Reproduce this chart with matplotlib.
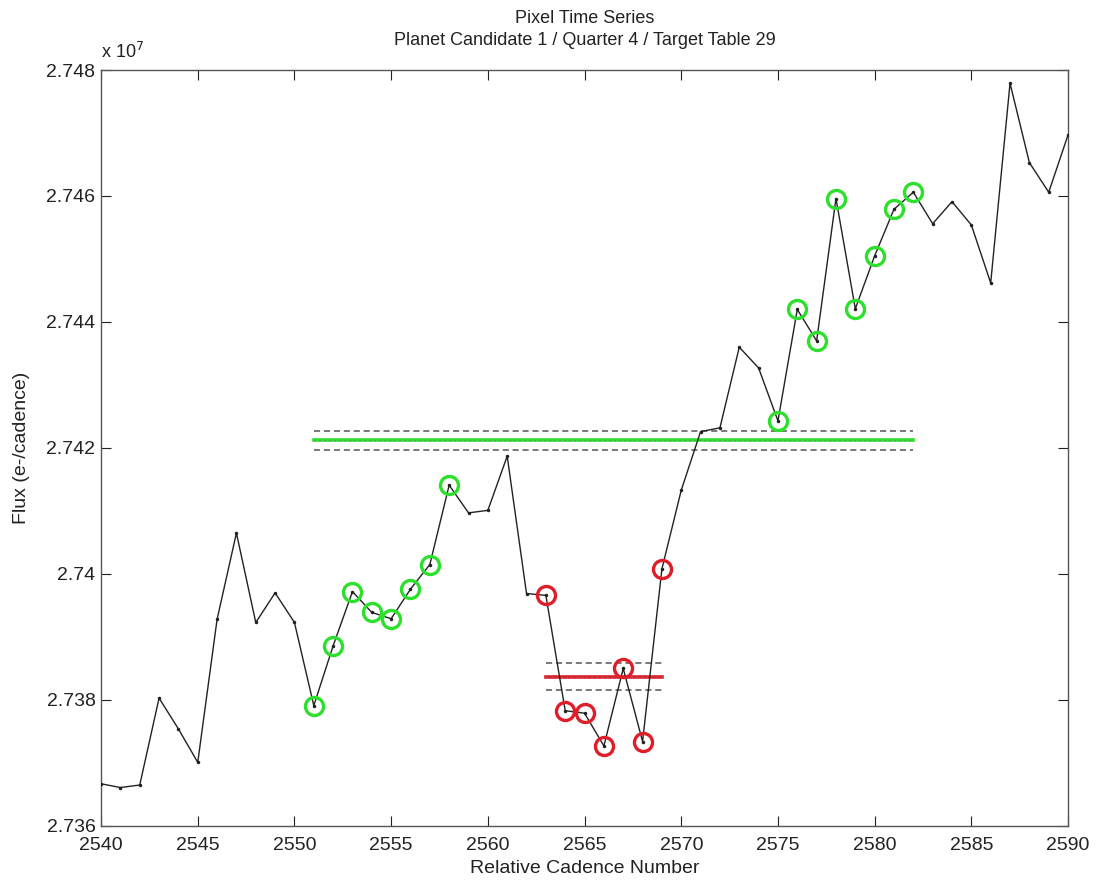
import matplotlib
matplotlib.use("Agg")
import numpy as np
import matplotlib.pyplot as plt
from matplotlib.ticker import FuncFormatter

plt.rcParams["font.family"] = ["Liberation Sans", "DejaVu Sans"]

# cadence numbers and flux (units of 1e7 e-/cadence)
cadence = np.arange(2540, 2591)
flux = np.array([
    2.73667, 2.73661, 2.73665, 2.73803, 2.73754, 2.73701, 2.73928, 2.74065,
    2.73923, 2.73970, 2.73923, 2.73791, 2.73886, 2.73972, 2.73939, 2.73929,
    2.73976, 2.74015, 2.74141, 2.74097, 2.74101, 2.74187, 2.73969, 2.73966,
    2.73783, 2.73779, 2.73727, 2.73850, 2.73734, 2.74008, 2.74133, 2.74226,
    2.74232, 2.74360, 2.74327, 2.74243, 2.74420, 2.74370, 2.74596, 2.74421,
    2.74505, 2.74579, 2.74606, 2.74556, 2.74591, 2.74554, 2.74462, 2.74779,
    2.74653, 2.74606, 2.74697,
]) * 1e7

# out-of-transit and in-transit cadences
oot_cadences = list(range(2551, 2559)) + list(range(2575, 2583))
it_cadences = list(range(2563, 2570))

# mean levels with +/- 1 sigma bands
oot_mean, oot_sigma = 2.74212e7, 0.00015e7
oot_span = (2551, 2582)
it_mean, it_sigma = 2.73837e7, 0.00021e7
it_span = (2563, 2569)

fig = plt.figure(figsize=(10.96, 8.85), dpi=100)
ax = fig.add_axes([0.0922, 0.0667, 0.8823, 0.8542])

idx_oot = [c - 2540 for c in oot_cadences]
idx_it = [c - 2540 for c in it_cadences]

green = "#2ee02e"
red = "#e01e2a"

# mean lines and sigma bands
for lo, hi, mean, sig, col in [(*oot_span, oot_mean, oot_sigma, green),
                               (*it_span, it_mean, it_sigma, red)]:
    ax.plot([lo, hi], [mean + sig] * 2, color="#555555", ls=(0, (4, 2.5)), lw=1.1)
    ax.plot([lo, hi], [mean - sig] * 2, color="#555555", ls=(0, (4, 2.5)), lw=1.1)
    ax.plot([lo, hi], [mean] * 2, color=col, ls="-", lw=2.6)
    ax.plot([lo, hi], [mean] * 2, color="#777777", ls=(0, (1, 3)), lw=0.9)

ax.plot(cadence, flux, color="#222222", lw=1.0, marker=".", ms=3, zorder=3)
ax.plot(cadence[idx_oot], flux[idx_oot], ls="none", marker="o", ms=13,
        mfc="none", mec=green, mew=2.4, zorder=4)
ax.plot(cadence[idx_it], flux[idx_it], ls="none", marker="o", ms=13,
        mfc="none", mec=red, mew=2.4, zorder=4)

ax.set_xlim(2540, 2590)
ax.set_ylim(2.736e7, 2.748e7)
ax.set_xticks(np.arange(2540, 2591, 5))
ax.set_yticks(np.arange(2.736e7, 2.7481e7, 0.002e7))
ax.yaxis.set_major_formatter(FuncFormatter(lambda v, p: f"{v / 1e7:g}"))
ax.tick_params(direction="in", top=True, right=True, length=7, width=0.8,
               labelsize=14, colors="#222222")
ax.tick_params(axis="x", pad=8)
ax.tick_params(axis="y", pad=4)
for s in ax.spines.values():
    s.set_color("#555555")
    s.set_linewidth(1.0)

ax.text(0.0, 1.01, r"x 10$^{7}$", transform=ax.transAxes, fontsize=13,
        ha="left", va="bottom", color="#222222")
ax.set_title("Pixel Time Series\nPlanet Candidate 1 / Quarter 4 / Target Table 29",
             fontsize=13, color="#222222", pad=18, linespacing=1.35)
ax.set_xlabel("Relative Cadence Number", fontsize=14, color="#222222", labelpad=4)
ax.set_ylabel("Flux (e-/cadence)", fontsize=14, color="#222222", labelpad=12)

fig.savefig("out.png", dpi=100)
